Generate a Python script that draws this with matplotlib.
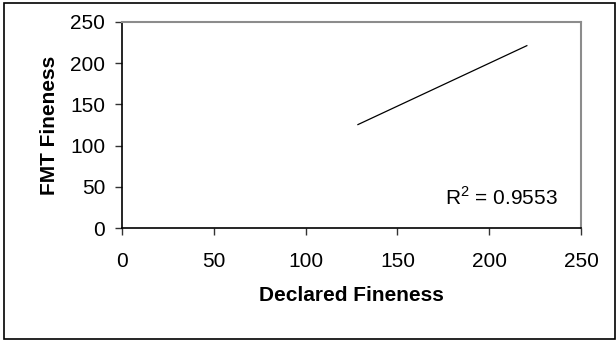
import matplotlib
matplotlib.use("Agg")
import matplotlib.pyplot as plt
from matplotlib.patches import Rectangle

# trend line endpoints
declared = [128.5, 220.5]
fmt = [125.5, 221.0]
r_squared = "0.9553"
ticks = [0, 50, 100, 150, 200, 250]

plt.rcParams['font.family'] = ['Liberation Sans', 'DejaVu Sans']
plt.rcParams['mathtext.fontset'] = 'custom'
plt.rcParams['mathtext.rm'] = 'Liberation Sans'

fig = plt.figure(figsize=(6.16, 3.40), dpi=100)
W, H = 616, 340
ax = fig.add_axes([122 / W, 1 - 228.3 / H, (581 - 122) / W, (228.3 - 21.7) / H])

ax.plot(declared, fmt, color='black', lw=0.9)

ax.set_xlim(0, 250)
ax.set_ylim(0, 250)
ax.set_xticks(ticks)
ax.set_yticks(ticks)
ax.tick_params(direction='out', length=5, width=1, labelsize=15, color='#333333')
ax.tick_params(axis='x', pad=12)
ax.tick_params(axis='y', pad=7)

for side in ('left', 'bottom'):
    ax.spines[side].set_color('black')
    ax.spines[side].set_linewidth(1.2)
for side in ('top', 'right'):
    ax.spines[side].set_color('#8c8c8c')
    ax.spines[side].set_linewidth(1.5)

ax.set_xlabel('Declared Fineness', fontsize=15, fontweight='bold', labelpad=11)
ax.set_ylabel('FMT Fineness', fontsize=15, fontweight='bold', labelpad=8)

ax.text(0.95, 0.113, r'R$^\mathrm{2}$ = ' + r_squared, transform=ax.transAxes,
        fontsize=15, ha='right', va='baseline')

# outer chart border
fig.patches.append(Rectangle((4 / W, 1 / H), (614.5 - 4) / W, (337.5 - 1) / H,
                             transform=fig.transFigure, fill=False,
                             edgecolor='black', lw=1.2))

fig.savefig('out.png', dpi=100)
